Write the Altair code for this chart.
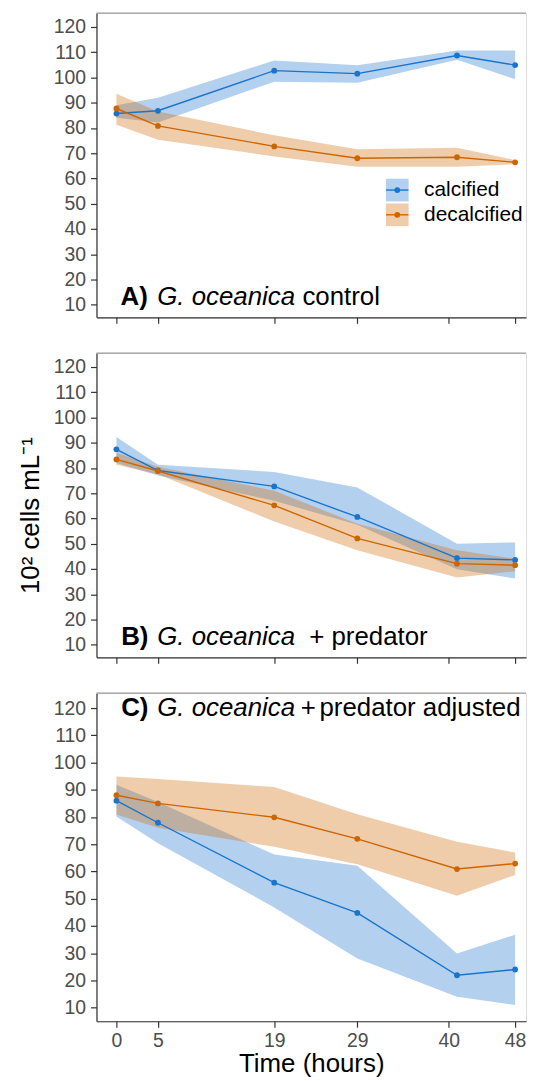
import altair as alt
import pandas as pd

groups = ["calcified", "decalcified"]
hours = [0, 5, 19, 29, 41, 48]
x_ticks = [0, 5, 19, 29, 40, 48]
y_ticks = [10, 20, 30, 40, 50, 60, 70, 80, 90, 100, 110, 120]

# Panel A: G. oceanica control
a_cal_mean = [85.7, 86.8, 102.7, 101.5, 108.7, 104.9]
a_cal_low = [84.0, 82.2, 98.3, 97.9, 107.0, 99.3]
a_cal_high = [89.0, 92.0, 106.7, 104.8, 110.7, 110.7]
a_dec_mean = [87.7, 80.8, 72.7, 68.0, 68.4, 66.4]
a_dec_low = [81.3, 75.3, 68.7, 64.6, 64.6, 65.6]
a_dec_high = [93.5, 86.5, 77.1, 71.6, 72.2, 67.3]

# Panel B: G. oceanica + predator
b_cal_mean = [87.4, 79.0, 72.7, 60.6, 44.3, 43.6]
b_cal_low = [82.0, 77.0, 67.0, 57.5, 39.9, 36.2]
b_cal_high = [92.3, 81.3, 78.4, 72.3, 50.0, 50.5]
b_dec_mean = [83.4, 78.8, 65.2, 52.1, 42.1, 41.5]
b_dec_low = [81.3, 77.5, 58.8, 47.4, 36.6, 39.1]
b_dec_high = [86.0, 80.5, 71.0, 57.9, 47.4, 44.1]

# Panel C: G. oceanica + predator adjusted
c_cal_mean = [86.0, 77.9, 55.9, 44.8, 21.9, 24.0]
c_cal_low = [80.2, 70.4, 46.8, 28.0, 14.0, 11.0]
c_cal_high = [91.9, 85.5, 66.2, 62.1, 29.9, 36.8]
c_dec_mean = [88.0, 85.0, 79.9, 72.0, 60.9, 62.9]
c_dec_low = [80.9, 76.1, 69.1, 62.7, 51.1, 58.7]
c_dec_high = [94.9, 94.0, 91.0, 81.0, 70.9, 67.0]

BLUE = "#1874CD"
ORANGE = "#CD6600"
FONT = "Liberation Sans"
W = 432
X_DOMAIN = [-2.4, 49.31]
Y_DOMAIN = [5, 125.5]

color_scale = alt.Scale(domain=groups, range=[BLUE, ORANGE])


def make_df(cm, cl, ch, dm, dl, dh):
    rows = []
    for g, m, lo, hi in [(groups[0], cm, cl, ch), (groups[1], dm, dl, dh)]:
        for t, mv, lv, hv in zip(hours, m, lo, hi):
            rows.append({"hours": t, "mean": mv, "low": lv, "high": hv, "group": g})
    return pd.DataFrame(rows)


def x_enc(show_labels, title):
    kw = dict(values=x_ticks, tickCount=len(x_ticks), grid=False,
              labels=show_labels, ticks=True,
              tickSize=6, tickColor="#333333", domainColor="#333333",
              domainWidth=1.2, tickWidth=1.2, labelColor="#4D4D4D",
              labelFontSize=19.5, labelFont=FONT, labelPadding=4,
              labelOverlap=False,
              titleFont=FONT, titleFontSize=26, titleFontWeight="normal",
              titleColor="black", titlePadding=1)
    return alt.X("hours:Q", title=title,
                 scale=alt.Scale(domain=X_DOMAIN, nice=False, zero=False),
                 axis=alt.Axis(**kw))


def y_enc(field, title):
    kw = dict(values=y_ticks, tickCount=len(y_ticks), grid=False, tickSize=6,
              tickColor="#333333",
              domainColor="#333333", domainWidth=1.2, tickWidth=1.2,
              labelColor="#4D4D4D", labelFontSize=19.5, labelFont=FONT,
              labelPadding=5, labelOverlap=False, titleFont=FONT, titleFontSize=26,
              titleFontWeight="normal", titleColor="black", titlePadding=10)
    if title:
        kw["titleY"] = 163
    return alt.Y(field, title=title,
                 scale=alt.Scale(domain=Y_DOMAIN, nice=False, zero=False),
                 axis=alt.Axis(**kw))


def panel(df, height, show_labels, x_title, y_title, texts, legend=False):
    base = alt.Chart(df)
    cenc = alt.Color("group:N", scale=color_scale, legend=None)
    band = base.mark_area(opacity=0.33).encode(
        x=x_enc(show_labels, x_title),
        y=y_enc("low:Q", y_title),
        y2="high:Q",
        color=cenc,
    )
    line = base.mark_line(strokeWidth=1.4).encode(x="hours:Q", y="mean:Q", color=cenc)
    pts = base.mark_circle(size=34, opacity=1).encode(x="hours:Q", y="mean:Q", color=cenc)
    top = alt.Chart(pd.DataFrame({"k": [0]})).mark_rule(
        color="#9A9A9A", strokeWidth=1.3
    ).encode(x=alt.value(0), x2=alt.value(W), y=alt.value(0))
    layers = [band, line, pts, top]
    for txt, tx, ty, weight, style in texts:
        t = alt.Chart(pd.DataFrame({"x": [tx], "y": [ty], "t": [txt]})).mark_text(
            align="left", baseline="alphabetic", font=FONT, fontSize=26,
            fontWeight=weight, fontStyle=style, color="black"
        ).encode(x="x:Q", y="y:Q", text="t:N")
        layers.append(t)
    if legend:
        leg = pd.DataFrame({"group": groups, "y": [55.4, 45.6],
                            "x": [33.81, 33.81], "x1": [32.46, 32.46],
                            "x2": [35.16, 35.16], "tx": [37.04, 37.04]})
        lb = alt.Chart(leg)
        layers.append(lb.mark_square(size=520, opacity=0.33).encode(x="x:Q", y="y:Q", color=cenc))
        layers.append(lb.mark_rule(strokeWidth=1.4).encode(x="x1:Q", x2="x2:Q", y="y:Q", color=cenc))
        layers.append(lb.mark_circle(size=34, opacity=1).encode(x="x:Q", y="y:Q", color=cenc))
        layers.append(lb.mark_text(align="left", baseline="middle", font=FONT,
                                   fontSize=21, color="black").encode(
            x="tx:Q", y="y:Q", text="group:N"))
    return alt.layer(*layers).properties(width=W, height=height)


dfA = make_df(a_cal_mean, a_cal_low, a_cal_high, a_dec_mean, a_dec_low, a_dec_high)
dfB = make_df(b_cal_mean, b_cal_low, b_cal_high, b_dec_mean, b_dec_low, b_dec_high)
dfC = make_df(c_cal_mean, c_cal_low, c_cal_high, c_dec_mean, c_dec_low, c_dec_high)

textsA = [("A)", 0.5, 10.0, "bold", "normal"),
          ("G. oceanica", 4.91, 10.0, "normal", "italic"),
          ("control", 22.39, 10.0, "normal", "normal")]
textsB = [("B)", 0.57, 10.0, "bold", "normal"),
          ("G. oceanica", 4.91, 10.0, "normal", "italic"),
          ("+ predator", 23.2, 10.0, "normal", "normal")]
textsC = [("C)", 0.57, 117.0, "bold", "normal"),
          ("G. oceanica", 4.91, 117.0, "normal", "italic"),
          ("+", 22.19, 117.0, "normal", "normal"),
          ("predator adjusted", 24.44, 117.0, "normal", "normal")]

pA = panel(dfA, 306, False, None, None, textsA, legend=True)
pB = panel(dfB, 306, False, None, "10² cells mL⁻¹", textsB)
pC = panel(dfC, 330, True, "Time (hours)", None, textsC)

chart = alt.vconcat(pA, pB, pC, spacing=26).properties(
    padding={"left": 8, "top": 0, "right": 0, "bottom": 0}
).configure_view(stroke=None).configure(background="white")

chart.save("out.html", embed_options={"renderer": "svg", "actions": False})
